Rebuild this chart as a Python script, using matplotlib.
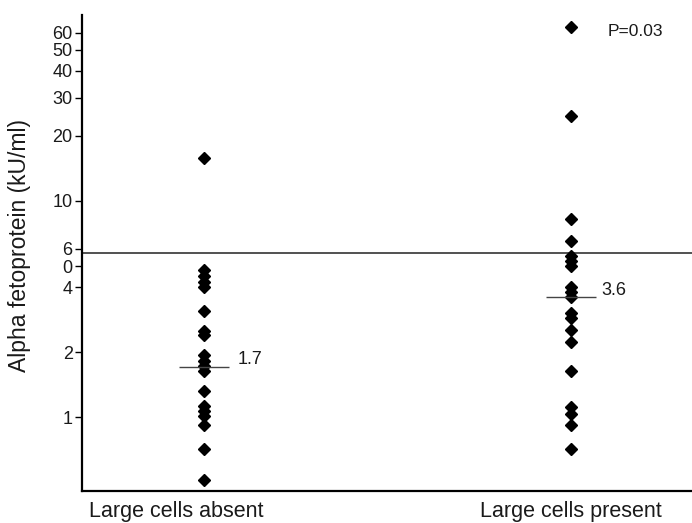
import numpy as np
import matplotlib
matplotlib.use("Agg")
import matplotlib.pyplot as plt

plt.rcParams['font.family'] = ['Liberation Sans', 'DejaVu Sans']

# values (kU/ml)
groups = ["Large cells absent", "Large cells present"]
absent = [15.8, 4.8, 4.5, 4.2, 4.0, 3.1, 2.5, 2.4, 1.94, 1.82, 1.73, 1.64,
          1.32, 1.13, 1.07, 1.01, 0.92, 0.71, 0.51]
present = [63.7, 24.7, 8.26, 6.53, 5.57, 5.28, 5.0, 4.0, 3.8, 3.6, 3.03,
           2.88, 2.54, 2.23, 1.64, 1.12, 1.04, 0.92, 0.71]
medians = [1.7, 3.6]
median_labels = ["1.7", "3.6"]
cutoff = 5.75
yticks = [1, 2, 4, 5, 6, 10, 20, 30, 40, 50, 60]
ytick_labels = ["1", "2", "4", "0", "6", "10", "20", "30", "40", "50", "60"]
p_text = "P=0.03"

fig = plt.figure(figsize=(6.92, 5.23), dpi=100)
ax = fig.add_axes([0.1185, 0.0612, 0.8815, 0.9101])

ax.set_yscale("log")
ax.set_ylim(0.456, 72.4)
ax.set_xlim(0.667, 2.33)

for i, vals in enumerate([absent, present]):
    x = np.full(len(vals), i + 1)
    ax.plot(x, vals, linestyle="none", marker="D", markersize=6,
            color="black", zorder=3)
    ax.hlines(medians[i], i + 1 - 0.068, i + 1 + 0.068, color="#444444",
              lw=1.0, zorder=4)

offsets = [(24, 6), (22, 4.5)]
for i in range(2):
    ax.annotate(median_labels[i], xy=(i + 1, medians[i]), xytext=offsets[i],
                textcoords="offset points", ha="left", va="center",
                fontsize=13, color="#1a1a1a")

ax.axhline(cutoff, color="#333333", lw=1.2, zorder=2)

ax.text(0.861, 0.966, p_text, transform=ax.transAxes, ha="left",
        va="center", fontsize=12.5, color="#1a1a1a")

# y axis
ax.set_yticks(yticks)
ax.set_yticklabels(ytick_labels)
ax.yaxis.set_minor_locator(matplotlib.ticker.NullLocator())
ax.tick_params(axis="y", direction="out", length=5, width=1, pad=1.7,
               labelsize=13, labelcolor="#1a1a1a")
ax.set_ylabel("Alpha fetoprotein (kU/ml)", fontsize=16.5, color="#1a1a1a")
ax.yaxis.set_label_coords(-0.083, 0.515)

# x axis: category labels under each column
ax.set_xticks([])
label_dx = [-20, 0]
for i, g in enumerate(groups):
    ax.annotate(g, xy=(i + 1, 0), xycoords=("data", "axes fraction"),
                xytext=(label_dx[i], -7), textcoords="offset points",
                ha="center", va="top", fontsize=15.5, color="#1a1a1a")

ax.spines["top"].set_visible(False)
ax.spines["right"].set_visible(False)
ax.spines["left"].set_linewidth(1.6)
ax.spines["bottom"].set_linewidth(1.6)

fig.savefig("out.png", dpi=100)
